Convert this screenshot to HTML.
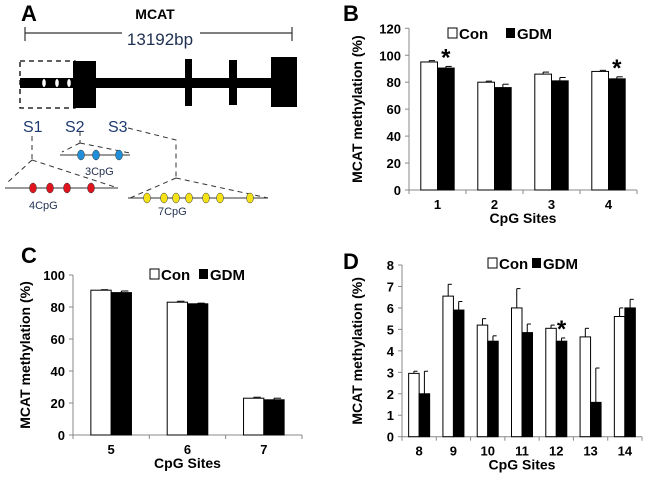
<!DOCTYPE html>
<html><head><meta charset="utf-8">
<style>
body{margin:0;background:#fff}
svg{display:block;font-family:"Liberation Sans",Arial,sans-serif}
.t{font-weight:bold;font-size:13px}
</style></head><body>
<svg id="fig" width="650" height="484" viewBox="0 0 650 484">
<!-- Panel A -->
<g>
<text x="21" y="21" font-size="22" font-weight="bold">A</text>
<text x="155" y="19" font-size="14" font-weight="bold" text-anchor="middle">MCAT</text>
<line x1="25" y1="33" x2="122" y2="33" stroke="#333" stroke-width="1.2"/>
<line x1="200" y1="33" x2="292" y2="33" stroke="#333" stroke-width="1.2"/>
<line x1="25" y1="27" x2="25" y2="41" stroke="#333" stroke-width="1.2"/>
<line x1="292" y1="27" x2="292" y2="41" stroke="#333" stroke-width="1.2"/>
<text x="160" y="45" font-size="17" fill="#1f2f4f" text-anchor="middle">13192bp</text>
<rect x="20" y="78" width="275" height="10" fill="#000"/>
<rect x="73" y="61" width="23" height="47" fill="#000"/>
<rect x="185" y="59" width="7" height="47" fill="#000"/>
<rect x="229" y="60" width="8" height="45" fill="#000"/>
<rect x="271" y="57" width="26" height="50" fill="#000"/>
<rect x="20" y="61" width="55" height="47" fill="none" stroke="#000" stroke-width="1.3" stroke-dasharray="5,4"/>
<ellipse cx="44" cy="83" rx="1.8" ry="4" fill="#fff"/><ellipse cx="57" cy="83" rx="1.8" ry="4" fill="#fff"/><ellipse cx="69" cy="83" rx="1.8" ry="4" fill="#fff"/>
<g font-size="16" fill="#1f3a6f">
<text x="23" y="132">S1</text>
<text x="65" y="132">S2</text>
<text x="108" y="132">S3</text>
</g>
<g stroke="#333" stroke-width="1" stroke-dasharray="5,4" fill="none">
<polyline points="32,136 32,160"/><polyline points="32,160 8,182"/><polyline points="32,160 118,188"/>
<polyline points="80,131 80,143"/><polyline points="80,143 62,152"/><polyline points="80,143 130,153"/>
<polyline points="128,128 176,140 176,178"/><polyline points="176,178 130,198"/><polyline points="176,178 268,198"/>
</g>
<line x1="60" y1="155" x2="130" y2="155" stroke="#333"/>
<g fill="#1e8fd8" stroke="#333" stroke-width="0.5"><ellipse cx="81" cy="155" rx="3.5" ry="5"/><ellipse cx="96" cy="155" rx="3.5" ry="5"/><ellipse cx="119" cy="155" rx="3.5" ry="5"/></g>
<text x="85" y="175" font-size="11" fill="#1f2f4f">3CpG</text>
<line x1="5" y1="188" x2="118" y2="188" stroke="#333"/>
<g fill="#e0141e" stroke="#333" stroke-width="0.5"><ellipse cx="33" cy="188" rx="3.5" ry="5"/><ellipse cx="50" cy="188" rx="3.5" ry="5"/><ellipse cx="67" cy="188" rx="3.5" ry="5"/><ellipse cx="91" cy="188" rx="3.5" ry="5"/></g>
<text x="29" y="209" font-size="11" fill="#1f2f4f">4CpG</text>
<line x1="128" y1="198" x2="268" y2="198" stroke="#333"/>
<g fill="#f5e216" stroke="#333" stroke-width="0.5"><ellipse cx="147" cy="198" rx="3.5" ry="5"/><ellipse cx="164" cy="198" rx="3.5" ry="5"/><ellipse cx="176" cy="198" rx="3.5" ry="5"/><ellipse cx="189" cy="198" rx="3.5" ry="5"/><ellipse cx="206" cy="198" rx="3.5" ry="5"/><ellipse cx="220" cy="198" rx="3.5" ry="5"/><ellipse cx="250" cy="198" rx="3.5" ry="5"/></g>
<text x="158" y="215" font-size="11" fill="#1f2f4f">7CpG</text>
</g>
<text x="343" y="21" font-size="22" font-weight="bold">B</text>
<text x="21" y="263" font-size="22" font-weight="bold">C</text>
<text x="343" y="269" font-size="22" font-weight="bold">D</text>
</svg>
<script>
// Panel B data
const bCats=["1","2","3","4"];
const bCon=[95,80,86,88];
const bGdm=[90.5,76,81,82.5];
const bConErr=[1,0.8,1.5,0.8];
const bGdmErr=[1.2,2.5,2.5,1.5];
const bTicks=[0,20,40,60,80,100,120];
const bStars=[0,3];
// Panel C data
const cCats=["5","6","7"];
const cCon=[90.5,83,23];
const cGdm=[89,82,22];
const cConErr=[0.3,0.6,0.6];
const cGdmErr=[1,0.4,1];
const cTicks=[0,20,40,60,80,100];
const cStars=[];
// Panel D data
const dCats=["8","9","10","11","12","13","14"];
const dCon=[2.95,6.55,5.2,6.0,5.05,4.65,5.6];
const dGdm=[2.0,5.9,4.45,4.85,4.45,1.6,6.0];
const dConErr=[0.1,0.55,0.3,0.9,0.15,0.4,0.4];
const dGdmErr=[1.05,0.4,0.25,0.4,0.15,1.6,0.4];
const dTicks=[0,1,2,3,4,5,6,7,8];
const dStars=[4];

const NS="http://www.w3.org/2000/svg";
const fig=document.getElementById('fig');
function mk(tag,attrs,parent){const e=document.createElementNS(NS,tag);for(const k in attrs)e.setAttribute(k,attrs[k]);(parent||fig).appendChild(e);return e;}

function panel(p,cats,con,gdm,conErr,gdmErr,ticks,stars,o){
  const g=mk('g',{});
  
  
  const ymax=ticks[ticks.length-1];
  const y=v=>o.y0-(v/ymax)*(o.y0-o.yTop);
  const cw=(o.x1-o.x0)/cats.length;
  const xc=i=>o.x0+cw*(i+0.5);
  // axes
  const ya=mk('line',{x1:o.x0,y1:o.yTop,x2:o.x0,y2:o.y0,stroke:'#888','stroke-width':1},g);
  
  
  const xa=mk('line',{x1:o.x0,y1:o.y0,x2:o.x1,y2:o.y0,stroke:'#888','stroke-width':1},g);
  
  
  ticks.forEach(t=>{
    mk('line',{x1:o.x0-4,x2:o.x0,y1:y(t),y2:y(t),stroke:'#888'},g);
    const tl=mk('text',{x:o.x0-8,y:y(t)+5,'text-anchor':'end',class:'t'},g);
    tl.textContent=t;
    
    
  });
  for(let i=0;i<=cats.length;i++) mk('line',{x1:o.x0+cw*i,x2:o.x0+cw*i,y1:o.y0,y2:o.y0+4,stroke:'#888'},g);
  cats.forEach((c,i)=>{
    const cx=xc(i);
    const bw=o.bw;
    const vals=[[con[i],conErr[i],'#fff',cx-bw],[gdm[i],gdmErr[i],'#000',cx]];
    vals.forEach((v,k)=>{
      const top=y(v[0]+v[1]);
      const ex=v[3]+bw/2;
      mk('line',{x1:ex,x2:ex,y1:top,y2:y(v[0]),stroke:'#000','stroke-width':1},g);
      mk('line',{x1:ex,x2:ex+bw*0.35,y1:top,y2:top,stroke:'#000','stroke-width':1},g);
      const r=mk('rect',{x:v[3],y:y(v[0]),width:bw,height:o.y0-y(v[0]),fill:v[2],stroke:'#000','stroke-width':1},g);
      
      
    });
    const cl=mk('text',{x:cx,y:o.y0+19,'text-anchor':'middle',class:'t'},g);
    cl.textContent=c;
    
    
  });
  stars.forEach(i=>{
    const s=mk('text',{x:xc(i)+o.bw/2,y:y(gdm[i]+gdmErr[i])-1,'text-anchor':'middle','font-size':24,'font-weight':'bold'},g);
    s.textContent='*';
    
    
  });
  const xt=mk('text',{x:(o.x0+o.x1)/2,y:o.y0+33,'text-anchor':'middle','font-size':14,'font-weight':'bold'},g);
  xt.textContent='CpG Sites';
  
  
  const yt=mk('text',{x:0,y:0,'text-anchor':'middle','font-size':14,'font-weight':'bold',transform:`translate(${o.ytx},${(o.y0+o.yTop)/2}) rotate(-90)`},g);
  yt.textContent='MCAT methylation (%)';
  
  
  // legend
  const lg=mk('g',{},g);
  
  
  mk('rect',{x:o.lx1-4,y:o.ly-5,width:9,height:10,fill:'#fff',stroke:'#000'},lg);
  const t1=mk('text',{x:o.lx1+7,y:o.ly+6,'font-size':15,'font-weight':'bold'},lg);
  t1.textContent='Con';
  
  
  mk('rect',{x:o.lx2-4,y:o.ly-5,width:9,height:10,fill:'#000'},lg);
  const t2=mk('text',{x:o.lx2+7,y:o.ly+6,'font-size':15,'font-weight':'bold'},lg);
  t2.textContent='GDM';
  
  
}
panel('b',bCats,bCon,bGdm,bConErr,bGdmErr,bTicks,bStars,{x0:409,x1:637,y0:190,yTop:28.3,bw:16.7,ytx:362,lx1:452,lx2:510,ly:33});
panel('c',cCats,cCon,cGdm,cConErr,cGdmErr,cTicks,cStars,{x0:73,x1:302,y0:435,yTop:275,bw:20.3,ytx:30,lx1:154,lx2:203,ly:274});
panel('d',dCats,dCon,dGdm,dConErr,dGdmErr,dTicks,dStars,{x0:402,x1:642,y0:436.7,yTop:265,bw:10.5,ytx:362,lx1:492,lx2:536,ly:263});
</script>
</body></html>
